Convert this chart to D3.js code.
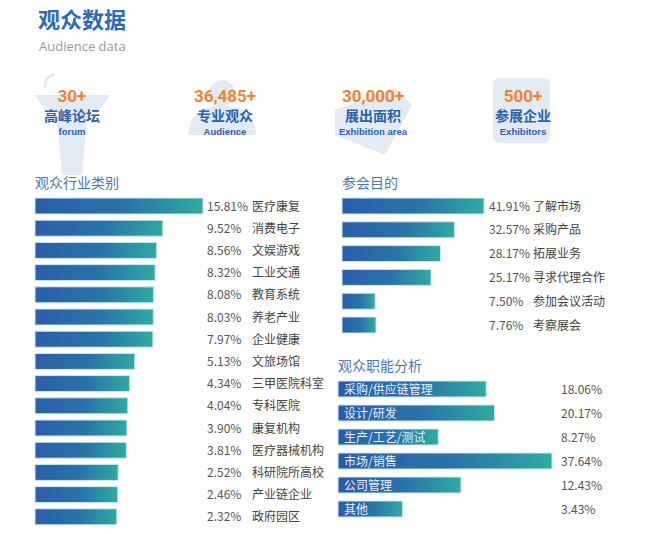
<!DOCTYPE html>
<html><head><meta charset="utf-8">
<script src="https://cdn.jsdelivr.net/npm/d3@7"></script>
<style>body{margin:0;background:#fff;font-family:"Noto Sans CJK SC","Noto Sans",sans-serif}</style>
</head><body><svg id="c" width="650" height="534"></svg>
<script>
const statNums=["30+","36,485+","30,000+","500+"];
const statCn=["高峰论坛","专业观众","展出面积","参展企业"];
const statEn=["forum","Audience","Exhibition area","Exhibitors"];
const indNames=["医疗康复","消费电子","文娱游戏","工业交通","教育系统","养老产业","企业健康","文旅场馆","三甲医院科室","专科医院","康复机构","医疗器械机构","科研院所高校","产业链企业","政府园区"];
const indVals=[15.81,9.52,8.56,8.32,8.08,8.03,7.97,5.13,4.34,4.04,3.90,3.81,2.52,2.46,2.32];
const purNames=["了解市场","采购产品","拓展业务","寻求代理合作","参加会议活动","考察展会"];
const purVals=[41.91,32.57,28.17,25.17,7.50,7.76];
const funNames=["采购/供应链管理","设计/研发","生产/工艺/测试","市场/销售","公司管理","其他"];
const funVals=[18.06,20.17,8.27,37.64,12.43,3.43];

const svg=d3.select("#c");
const defs=svg.append("defs");
const g=defs.append("linearGradient").attr("id","gr").attr("x1","0").attr("x2","1");
g.append("stop").attr("offset","0").attr("stop-color","#2b5ea9");
g.append("stop").attr("offset","0.55").attr("stop-color","#2a73a8");
g.append("stop").attr("offset","1").attr("stop-color","#30aaa2");

svg.append("text").attr("x",38).attr("y",28).text("观众数据").attr("font-size",22).attr("font-weight","bold").attr("fill","#2d6cb5");
svg.append("text").attr("x",39).attr("y",51).text("Audience data").attr("font-size",13).attr("fill","#9a9a9a").attr("font-family","Open Sans");

const cx=[72,225,373,523];
const ic="#e3eaf4";
svg.append("path").attr("d","M35,95 L110,95 L100,110 L88,110 L82,175 L62,175 L56,110 L45,110 Z").attr("fill",ic);
svg.append("path").attr("d","M45,88 Q45,75 55,75").attr("stroke",ic).attr("stroke-width",3).attr("fill","none");
svg.append("circle").attr("cx",222).attr("cy",93).attr("r",13).attr("fill",ic);
svg.append("path").attr("d","M188,135 Q190,105 222,106 Q255,105 256,135 Z").attr("fill",ic);
svg.append("path").attr("d","M335,110 L395,88 L412,105 L385,155 L335,135 Z").attr("fill",ic);
svg.append("rect").attr("x",493).attr("y",78).attr("width",57).attr("height",65).attr("rx",6).attr("fill",ic);
statNums.forEach((n,i)=>{
 svg.append("text").attr("x",cx[i]).attr("y",102).attr("text-anchor","middle").text(n).attr("font-size",17).attr("font-weight","bold").attr("fill","#ee8530").attr("font-family","Liberation Sans Narrow,Roboto");
 svg.append("text").attr("x",cx[i]).attr("y",121).attr("text-anchor","middle").text(statCn[i]).attr("font-size",14).attr("font-weight","bold").attr("fill","#2b62ad");
 svg.append("text").attr("x",cx[i]).attr("y",135).attr("text-anchor","middle").text(statEn[i]).attr("font-size",9.5).attr("font-weight","bold").attr("fill","#2b62ad").attr("font-family","Liberation Sans");
});

function title(x,y,t){svg.append("text").attr("x",x).attr("y",y).text(t).attr("font-size",14).attr("fill","#4b78b7");}
function bars(vals,x0,ys,xs){
 vals.forEach((v,i)=>{
  svg.append("rect").attr("x",x0).attr("y",ys(i)-8).attr("width",xs(v)).attr("height",16).attr("fill","url(#gr)").attr("stroke","#cfe9ec").attr("stroke-width",1);
 });
}
title(35,188,"观众行业类别");
const yi=i=>206+i*22.2;
const xi=d3.scaleLinear().domain([-10.5,15.81]).range([0,168]);
bars(indVals,35,yi,xi);
indVals.forEach((v,i)=>{
 svg.append("text").attr("x",207).attr("y",yi(i)+4.5).text(v.toFixed(2)+"%").attr("font-size",12).attr("fill","#555");
 svg.append("text").attr("x",252).attr("y",yi(i)+4.5).text(indNames[i]).attr("font-size",12).attr("fill","#444");
});
title(342,188,"参会目的");
const yp=i=>206+i*23.8;
const xp=d3.scaleLinear().domain([-3,41.91]).range([0,142]);
bars(purVals,342,yp,xp);
purVals.forEach((v,i)=>{
 svg.append("text").attr("x",489).attr("y",yp(i)+4.5).text(v.toFixed(2)+"%").attr("font-size",12).attr("fill","#555");
 svg.append("text").attr("x",533).attr("y",yp(i)+4.5).text(purNames[i]).attr("font-size",12).attr("fill","#444");
});
title(338,371,"观众职能分析");
const yf=i=>389+i*24;
const xf=d3.scaleSqrt().domain([0,37.64]).range([0,214]);
bars(funVals,338,yf,xf);
funVals.forEach((v,i)=>{
 svg.append("text").attr("x",344).attr("y",yf(i)+4.5).text(funNames[i]).attr("font-size",12).attr("fill","#e8eef8");
 svg.append("text").attr("x",561).attr("y",yf(i)+4.5).text(v.toFixed(2)+"%").attr("font-size",12).attr("fill","#555");
});
</script></body></html>
